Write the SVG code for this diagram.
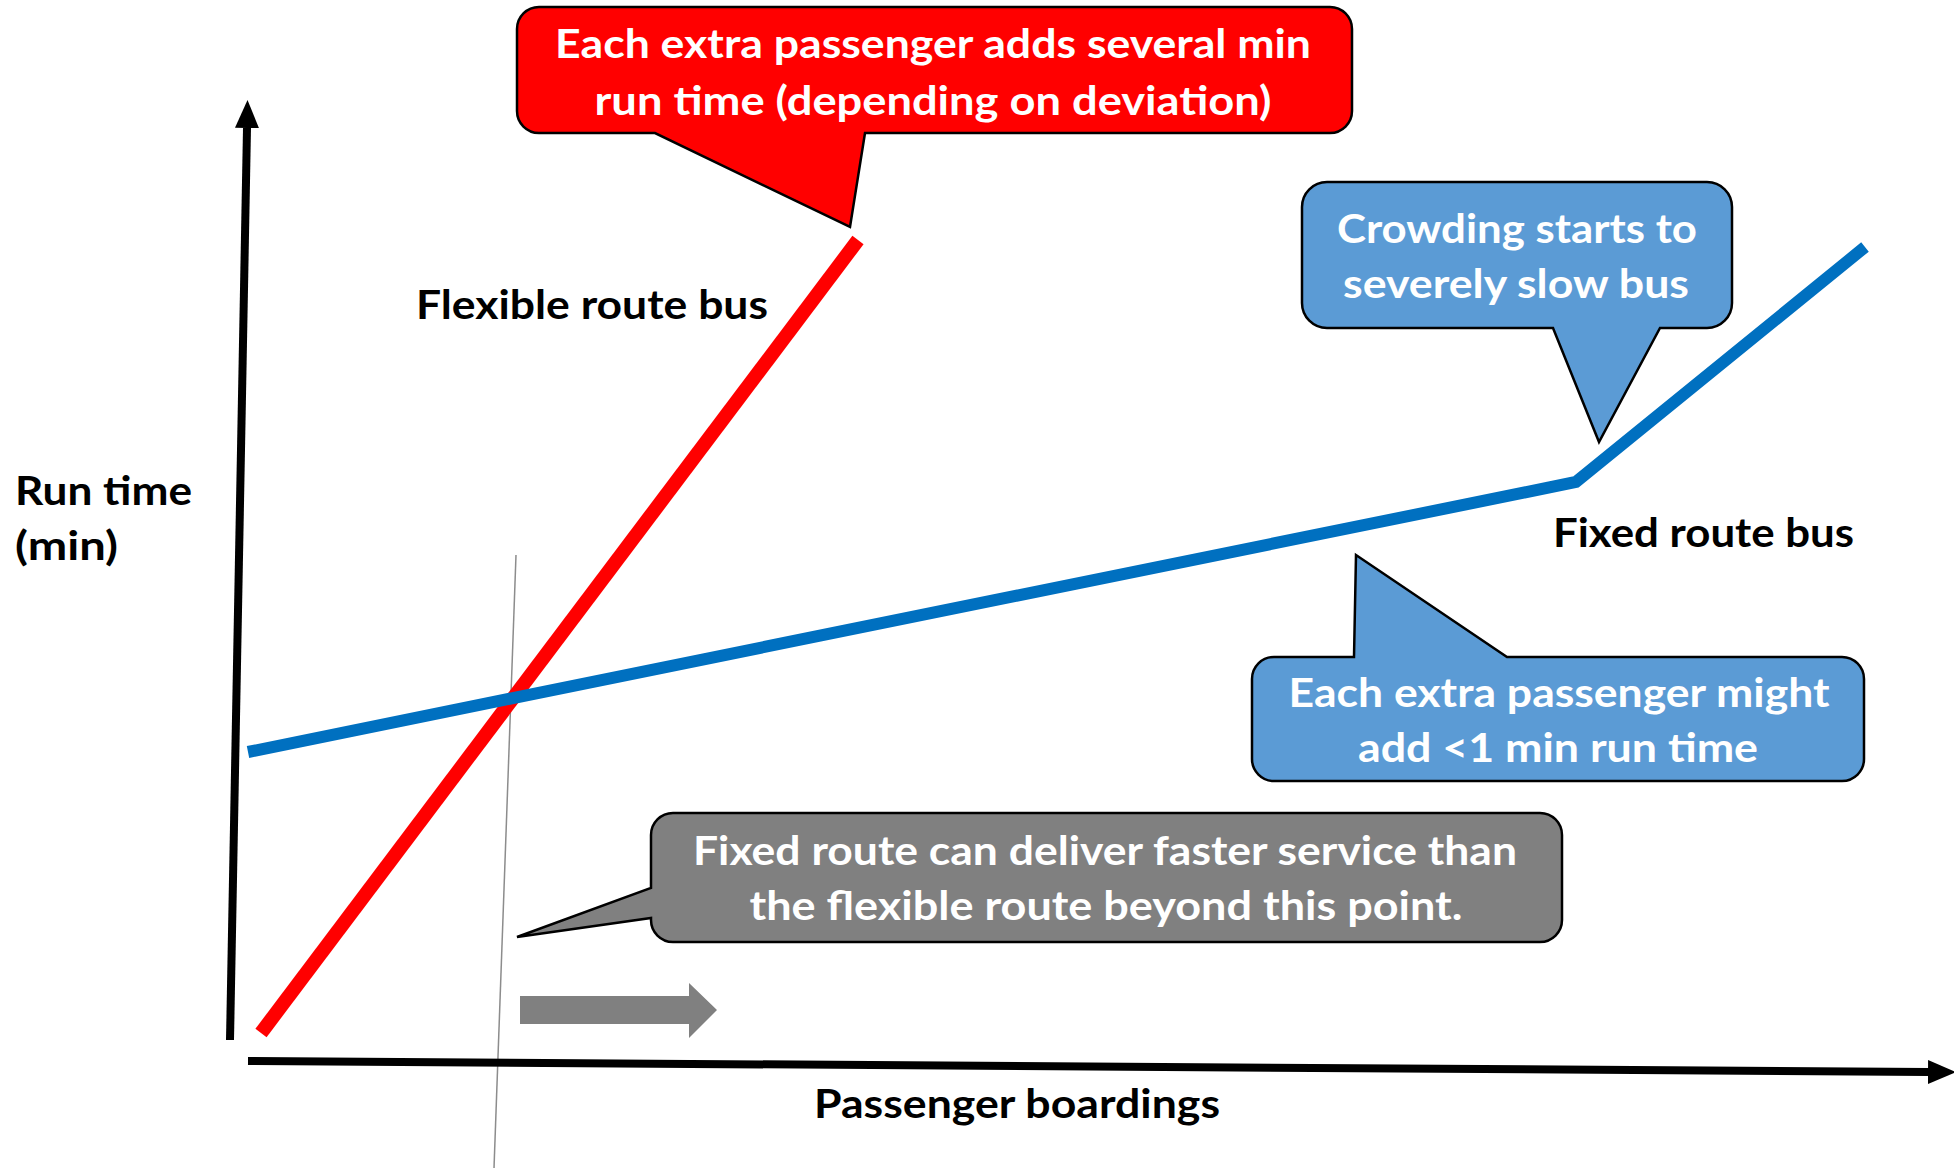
<svg xmlns="http://www.w3.org/2000/svg" width="1954" height="1168" viewBox="0 0 1954 1168">
<style>
.t{font-family:Lato,"Open Sans","Liberation Sans",sans-serif;font-weight:bold;font-size:40px}
.w{fill:#ffffff}
.k{fill:#000000}
.c{stroke:#000;stroke-width:2.5;stroke-linejoin:miter}
</style>
<defs>
<marker id="ah" markerUnits="userSpaceOnUse" markerWidth="30" markerHeight="30" refX="0" refY="12" orient="auto" viewBox="0 0 30 24">
<path d="M0,0 L28,12 L0,24 Z" fill="#000"/>
</marker>
</defs>
<rect width="1954" height="1168" fill="#fff"/>
<g id="connectors">
<line id="guide" x1="516" y1="555" x2="494" y2="1168" stroke="#8c8c8c" stroke-width="1.5"/>
<line id="y-axis" x1="230" y1="1040" x2="247" y2="128" stroke="#000" stroke-width="8" marker-end="url(#ah)"/>
<line id="x-axis" x1="248" y1="1061" x2="1928" y2="1072" stroke="#000" stroke-width="8" marker-end="url(#ah)"/>
<line id="flex-line" x1="261" y1="1033" x2="858" y2="240" stroke="#ff0000" stroke-width="14"/>
<polyline id="fixed-line" points="248,752 1576,482 1865,247" fill="none" stroke="#0070c0" stroke-width="12"/>
<polygon id="gray-arrow" points="520,996 689,996 689,983 717,1010 689,1038 689,1024 520,1024" fill="#808080"/>
</g>
<g id="callout-flex">
<path class="c" fill="#ff0000" d="M539,7 H1330 A22,22 0 0 1 1352,29 V111 A22,22 0 0 1 1330,133 H865 L850,227 L655,133 H539 A22,22 0 0 1 517,111 V29 A22,22 0 0 1 539,7 Z"/>
<text class="t w" x="933" y="58" text-anchor="middle" textLength="756" lengthAdjust="spacingAndGlyphs">Each extra passenger adds several min</text>
<text class="t w" x="933" y="115" text-anchor="middle" textLength="677" lengthAdjust="spacingAndGlyphs">run time (depending on deviation)</text>
</g>
<g id="callout-crowding">
<path class="c" fill="#5b9bd5" d="M1327,182 H1707 A25,25 0 0 1 1732,207 V303 A25,25 0 0 1 1707,328 H1660 L1599,442 L1553,328 H1327 A25,25 0 0 1 1302,303 V207 A25,25 0 0 1 1327,182 Z"/>
<text class="t w" x="1517" y="243" text-anchor="middle" textLength="360" lengthAdjust="spacingAndGlyphs">Crowding starts to</text>
<text class="t w" x="1516" y="298" text-anchor="middle" textLength="346" lengthAdjust="spacingAndGlyphs">severely slow bus</text>
</g>
<g id="callout-fixed">
<path class="c" fill="#5b9bd5" d="M1274,657 H1354 L1356,555 L1507,657 H1842 A22,22 0 0 1 1864,679 V759 A22,22 0 0 1 1842,781 H1274 A22,22 0 0 1 1252,759 V679 A22,22 0 0 1 1274,657 Z"/>
<text class="t w" x="1559" y="707" text-anchor="middle" textLength="541" lengthAdjust="spacingAndGlyphs">Each extra passenger might</text>
<text class="t w" x="1558" y="762" text-anchor="middle" textLength="400" lengthAdjust="spacingAndGlyphs">add &lt;1 min run time</text>
</g>
<g id="callout-faster">
<path class="c" fill="#808080" d="M673,813 H1540 A22,22 0 0 1 1562,835 V920 A22,22 0 0 1 1540,942 H673 A22,22 0 0 1 651,920 V918 L517,937 L651,888 V835 A22,22 0 0 1 673,813 Z"/>
<text class="t w" x="1105" y="865" text-anchor="middle" textLength="824" lengthAdjust="spacingAndGlyphs">Fixed route can deliver faster service than</text>
<text class="t w" x="1106" y="920" text-anchor="middle" textLength="713" lengthAdjust="spacingAndGlyphs">the flexible route beyond this point.</text>
</g>
<g id="label-flex"><text class="t k" x="416" y="319" textLength="352" lengthAdjust="spacingAndGlyphs">Flexible route bus</text></g>
<g id="label-fixed"><text class="t k" x="1553" y="547" textLength="301" lengthAdjust="spacingAndGlyphs">Fixed route bus</text></g>
<g id="label-y"><text class="t k" x="15" y="505" textLength="177" lengthAdjust="spacingAndGlyphs">Run time</text><text class="t k" x="15" y="560" textLength="103" lengthAdjust="spacingAndGlyphs">(min)</text></g>
<g id="label-x"><text class="t k" x="814" y="1118" textLength="406" lengthAdjust="spacingAndGlyphs">Passenger boardings</text></g>
</svg>
